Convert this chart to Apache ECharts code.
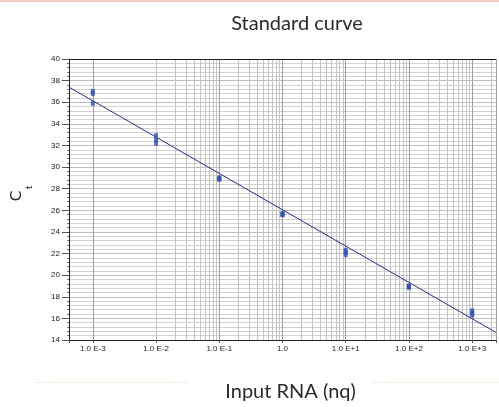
<!DOCTYPE html>
<html>
<head>
<meta charset="utf-8">
<script src="https://cdn.jsdelivr.net/npm/echarts@6/dist/echarts.min.js"></script>
<style>
html,body{margin:0;padding:0;background:#fff;}
#chart{width:499px;height:407px;}
</style>
</head>
<body>
<div id="chart"></div>
<script>
// Input RNA amounts (ng), one per dilution
const inputRNA = [0.001, 0.01, 0.1, 1, 10, 100, 1000];
const tickLabels = ['1.0 E-3', '1.0 E-2', '1.0 E-1', '1.0', '1.0 E+1', '1.0 E+2', '1.0 E+3'];
// Ct replicates
const ctRep1 = [37.0, 32.9, 29.0, 25.7, 22.3, 19.0, 16.7];
const ctRep2 = [36.8, 32.5, 28.9, 25.6, 22.1, 18.9, 16.5];
const ctRep3 = [35.9, 32.2, 28.9, 25.6, 21.9, 18.9, 16.3];
// regression line end points
const fitRNA = [0.00042, 2380];
const fitCt = [37.4, 14.7];
// axis range
const xMin = 0.00042, xMax = 2380;
const yMin = 14, yMax = 40, yStep = 2;

// minor log grid positions (2..9 x each decade) inside the range
const gridDecades = [0.0001, 0.001, 0.01, 0.1, 1, 10, 100, 1000];
const minorMult = [2, 3, 4, 5, 6, 7, 8, 9];
const minorX = [];
gridDecades.forEach(d => minorMult.forEach(m => {
  const v = +(d * m).toPrecision(6);
  if (v > xMin && v < xMax) minorX.push(v);
}));

const scatterData = [];
inputRNA.forEach((x, i) => {
  scatterData.push([x, ctRep1[i]], [x, ctRep2[i]], [x, ctRep3[i]]);
});

const chart = echarts.init(document.getElementById('chart'), null, {renderer: 'canvas'});
const option = {
  animation: false,
  backgroundColor: '#ffffff',
  title: {
    text: 'Standard curve',
    left: 292, top: 9, textAlign: 'center',
    textStyle: {fontFamily: 'Lato', fontSize: 20, fontWeight: 'normal', color: '#2a2a2a'}
  },
  grid: {left: 69, top: 59, right: 0, bottom: 62},
  xAxis: {
    type: 'log', logBase: 10, min: xMin, max: xMax,
    name: 'Input RNA (nq)', nameLocation: 'middle', nameGap: 42,
    nameTextStyle: {fontFamily: 'Lato', fontSize: 20, color: '#2a2a2a', padding: [0, 0, 0, 16]},
    axisLine: {show: true, lineStyle: {color: '#222', width: 1}},
    axisTick: {show: true, length: 3, lineStyle: {color: '#555'}},
    axisLabel: {
      fontFamily: 'Liberation Sans', fontSize: 8, color: '#222', margin: 5,
      formatter: function (v) {
        const i = inputRNA.findIndex(d => Math.abs(v / d - 1) < 1e-6);
        return i >= 0 ? tickLabels[i] : '';
      }
    },
    splitLine: {show: true, lineStyle: {color: '#a0a0a0', width: 1}}
  },
  yAxis: {
    type: 'value', min: yMin, max: yMax, interval: yStep,
    axisLine: {show: true, lineStyle: {color: '#222', width: 1}},
    axisTick: {show: true, length: 7, lineStyle: {color: '#555'}},
    minorTick: {show: true, splitNumber: 5, length: 2, lineStyle: {color: '#777'}},
    axisLabel: {fontFamily: 'Liberation Sans', fontSize: 8, color: '#222', margin: 9},
    splitLine: {show: true, lineStyle: {color: '#bdbdbd'}},
    minorSplitLine: {show: true, lineStyle: {color: '#d2d2d2'}}
  },
  graphic: [
    {type: 'rect', shape: {x: 0, y: 0, width: 499, height: 2}, style: {fill: '#f5cbc1'}, silent: true},
    {type: 'line', shape: {x1: 35, y1: 382.5, x2: 187, y2: 382.5}, style: {stroke: '#f2eedd', lineWidth: 1}, silent: true},
    {type: 'line', shape: {x1: 372, y1: 382.5, x2: 499, y2: 382.5}, style: {stroke: '#f2eedd', lineWidth: 1}, silent: true},
    {type: 'text', x: 15.5, y: 196, rotation: Math.PI / 2,
      style: {text: 'C', font: '16px Lato', fill: '#2a2a2a', align: 'center', verticalAlign: 'middle'}},
    {type: 'text', x: 28.5, y: 187.5, rotation: Math.PI / 2,
      style: {text: 't', font: '10px Lato', fill: '#2a2a2a', align: 'center', verticalAlign: 'middle'}}
  ],
  series: [
    {
      type: 'line', data: [], silent: true, z: 1,
      markLine: {
        silent: true, z: 1, animation: false,
        symbol: ['none', 'none'], label: {show: false},
        lineStyle: {color: '#c4c4c4', width: 1, type: 'solid'},
        emphasis: {disabled: true},
        data: minorX.map(v => ({xAxis: v})).concat([{yAxis: yMax, lineStyle: {color: '#222', width: 1, type: 'solid'}}])
      }
    },
    {
      type: 'line', z: 3, silent: true,
      data: fitRNA.map((x, i) => [x, fitCt[i]]),
      showSymbol: false, symbol: 'none',
      lineStyle: {color: '#2e2e7e', width: 1}
    },
    {
      type: 'scatter', z: 4, silent: true,
      data: scatterData,
      symbol: 'rect', symbolSize: [4, 5],
      itemStyle: {color: '#3553b0'}
    }
  ]
};
chart.setOption(option);
</script>
</body>
</html>
